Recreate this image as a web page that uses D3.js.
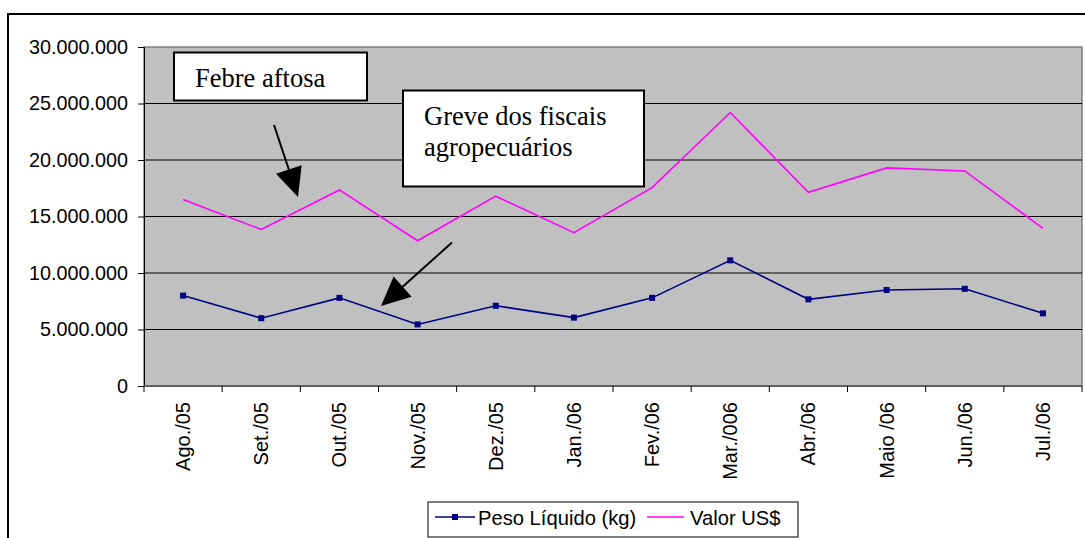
<!DOCTYPE html>
<html>
<head>
<meta charset="utf-8">
<script src="https://cdn.jsdelivr.net/npm/d3@7"></script>
<style>
  body { margin: 0; background: #fff; }
  svg { display: block; }
</style>
</head>
<body>
<div id="chart"></div>
<script>
const months = ['Ago./05', 'Set./05', 'Out./05', 'Nov./05', 'Dez./05', 'Jan./06',
  'Fev./06', 'Mar./006', 'Abr./06', 'Maio /06', 'Jun./06', 'Jul./06'];
const peso = [8000000, 6000000, 7800000, 5450000, 7100000, 6050000,
  7800000, 11120000, 7670000, 8500000, 8600000, 6430000];
const valor = [16500000, 13850000, 17350000, 12850000, 16800000, 13570000,
  17550000, 24200000, 17140000, 19300000, 19030000, 13950000];
const yTicks = [0, 5000000, 10000000, 15000000, 20000000, 25000000, 30000000];

const width = 1085, height = 538;
const plot = { left: 144, top: 47, right: 1082, bottom: 386 };

const svg = d3.select('#chart').append('svg')
  .attr('width', width).attr('height', height);

// outer frame (runs off the right and bottom edges)
svg.append('rect')
  .attr('x', 8).attr('y', 14)
  .attr('width', 1100).attr('height', 560)
  .attr('fill', 'none').attr('stroke', '#000').attr('stroke-width', 2);

const x = d3.scaleBand().domain(months).range([plot.left, plot.right]);
const y = d3.scaleLinear().domain([0, 30000000]).range([plot.bottom, plot.top]);

svg.append('rect')
  .attr('x', plot.left).attr('y', plot.top)
  .attr('width', plot.right - plot.left).attr('height', plot.bottom - plot.top)
  .attr('fill', '#c0c0c0').attr('stroke', '#808080').attr('stroke-width', 1.5);

// gridlines
svg.append('g')
  .selectAll('line')
  .data(yTicks.filter(d => d > 0 && d < 30000000))
  .enter()
  .append('line')
  .attr('x1', plot.left).attr('x2', plot.right)
  .attr('y1', d => y(d)).attr('y2', d => y(d))
  .attr('stroke', '#000').attr('stroke-width', 1);

const fmt = d => d === 0 ? '0' : d3.format(',')(d).replace(/,/g, '.');

const yAxis = d3.axisLeft(y).tickValues(yTicks).tickSize(6).tickPadding(10).tickFormat(fmt);
const gy = svg.append('g').attr('transform', `translate(${plot.left},0)`).call(yAxis);
gy.select('.domain').attr('stroke', '#000');
gy.selectAll('.tick line').attr('stroke', '#000');
gy.selectAll('text')
  .style('font-family', '"Liberation Sans", Arial, sans-serif')
  .style('font-size', '19.8px').attr('fill', '#000');

// category axis: ticks at band boundaries
svg.append('line')
  .attr('x1', plot.left).attr('x2', plot.right)
  .attr('y1', plot.bottom).attr('y2', plot.bottom)
  .attr('stroke', '#606060').attr('stroke-width', 2);
svg.append('g')
  .selectAll('line')
  .data(months.map(m => x(m)).concat([plot.right]))
  .enter()
  .append('line')
  .attr('x1', d => d).attr('x2', d => d)
  .attr('y1', plot.bottom).attr('y2', plot.bottom + 6)
  .attr('stroke', '#000');

svg.append('g')
  .selectAll('text')
  .data(months)
  .enter()
  .append('text')
  .attr('transform', d => `translate(${x(d) + x.bandwidth() / 2},402) rotate(-90)`)
  .attr('text-anchor', 'end')
  .attr('dy', '0.35em')
  .style('font-family', '"Liberation Sans", Arial, sans-serif')
  .style('font-size', '20px')
  .text(d => d);

const cx = (d, i) => x(months[i]) + x.bandwidth() / 2;
const line = d3.line().x(cx).y(d => y(d));

svg.append('path')
  .datum(valor)
  .attr('d', line)
  .attr('fill', 'none').attr('stroke', '#ff00ff').attr('stroke-width', 1.6);

svg.append('path')
  .datum(peso)
  .attr('d', line)
  .attr('fill', 'none').attr('stroke', '#000080').attr('stroke-width', 1.6);

svg.append('g')
  .selectAll('rect')
  .data(peso)
  .enter()
  .append('rect')
  .attr('x', (d, i) => cx(d, i) - 3).attr('y', d => y(d) - 3)
  .attr('width', 6).attr('height', 6)
  .attr('fill', '#000080');

// annotations
const serif = '"Liberation Serif", "Times New Roman", serif';

const arrow = (x1, y1, x2, y2) => {
  const len = Math.hypot(x2 - x1, y2 - y1);
  const ux = (x2 - x1) / len, uy = (y2 - y1) / len;
  const hl = 29, hw = 13.5;
  const bx = x2 - ux * hl, by = y2 - uy * hl;
  svg.append('line')
    .attr('x1', x1).attr('y1', y1).attr('x2', bx).attr('y2', by)
    .attr('stroke', '#000').attr('stroke-width', 2);
  svg.append('path')
    .attr('d', `M${x2},${y2}L${bx - uy * hw},${by + ux * hw}L${bx + uy * hw},${by - ux * hw}Z`)
    .attr('fill', '#000');
};

svg.append('rect')
  .attr('x', 174).attr('y', 52.5).attr('width', 193).attr('height', 48)
  .attr('fill', '#fff').attr('stroke', '#000').attr('stroke-width', 2);
svg.append('text')
  .attr('x', 195).attr('y', 87)
  .style('font-family', serif).style('font-size', '26.5px')
  .text('Febre aftosa');

svg.append('rect')
  .attr('x', 403).attr('y', 90.5).attr('width', 241).attr('height', 96)
  .attr('fill', '#fff').attr('stroke', '#000').attr('stroke-width', 2);
svg.append('text')
  .attr('x', 424).attr('y', 125)
  .style('font-family', serif).style('font-size', '26.5px')
  .text('Greve dos fiscais');
svg.append('text')
  .attr('x', 424).attr('y', 156)
  .style('font-family', serif).style('font-size', '26.5px')
  .text('agropecuários');

arrow(274, 125, 298, 197);
arrow(452, 242.5, 381, 306);

// legend
const lg = svg.append('g');
lg.append('rect')
  .attr('x', 428).attr('y', 502).attr('width', 370).attr('height', 35)
  .attr('fill', '#fff').attr('stroke', '#000').attr('stroke-width', 1);
lg.append('line')
  .attr('x1', 435).attr('x2', 475).attr('y1', 517).attr('y2', 517)
  .attr('stroke', '#000080').attr('stroke-width', 1.6);
lg.append('rect')
  .attr('x', 452).attr('y', 514).attr('width', 6).attr('height', 6)
  .attr('fill', '#000080');
lg.append('text')
  .attr('x', 478).attr('y', 524.5)
  .style('font-family', '"Liberation Sans", Arial, sans-serif')
  .style('font-size', '20.2px')
  .text('Peso Líquido (kg)');
lg.append('line')
  .attr('x1', 647).attr('x2', 684).attr('y1', 517).attr('y2', 517)
  .attr('stroke', '#ff00ff').attr('stroke-width', 1.6);
lg.append('text')
  .attr('x', 690).attr('y', 524.5)
  .style('font-family', '"Liberation Sans", Arial, sans-serif')
  .style('font-size', '20.2px')
  .text('Valor US$');
</script>
</body>
</html>
